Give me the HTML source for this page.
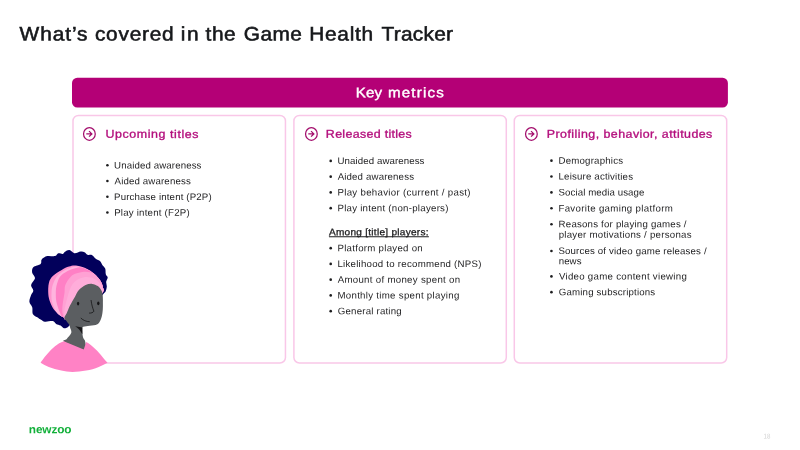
<!DOCTYPE html>
<html lang="en">
<head>
<meta charset="utf-8">
<title>What’s covered in the Game Health Tracker</title>
<style>
html,body{margin:0;padding:0;}
body{width:800px;height:450px;position:relative;overflow:hidden;background:#fff;font-family:"Liberation Sans",sans-serif;color:#1d1d1f;}
h1,h2,h3,ul,li,p{margin:0;padding:0;font:inherit;list-style:none;}
#art{position:absolute;left:0;top:0;width:800px;height:450px;}
.t{position:absolute;white-space:nowrap;line-height:16px;transform-origin:0 0;}
.tw{font-size:19.5px;color:#16181b;-webkit-text-stroke:0.55px #16181b;}
.bw{font-size:14px;color:#fff;-webkit-text-stroke:0.4px #fff;}
.hd{font-size:11.3px;font-weight:400;color:#b30d7c;-webkit-text-stroke:0.32px #b30d7c;}
.li,.cont{font-size:9.5px;color:#1d1d1f;}
.sub{font-size:9.5px;font-weight:400;color:#1d1d1f;-webkit-text-stroke:0.3px #1d1d1f;text-decoration:underline;text-decoration-thickness:1px;text-underline-offset:0.65px;text-decoration-skip-ink:none;}
.logo{font-size:11.6px;font-weight:700;color:#12b03a;}
.pg{font-size:7px;color:#d2d2d2;}
</style>
</head>
<body>
<svg id="art" viewBox="0 0 800 450">
<rect x="72" y="77.65" width="655.9" height="29.8" rx="5.3" fill="#b40076"/>
<g fill="none" stroke="#f9c7e8" stroke-width="1.5">
<rect x="73" y="115.4" width="212.45" height="247.6" rx="5.5"/>
<rect x="293.9" y="115.4" width="212.4" height="247.6" rx="5.5"/>
<rect x="514.3" y="115.4" width="212.4" height="247.6" rx="5.5"/>
</g>
<g transform="translate(89.4 133.95)"><ellipse cx="0" cy="0" rx="5.85" ry="6.3" fill="none" stroke="#a30d6c" stroke-width="1.25"/><path d="M-3.1 -0.05H2.1M-0.35 -2.8L2.45 -0.05L-0.35 2.7" fill="none" stroke="#a30d6c" stroke-width="1.3" stroke-linejoin="miter"/></g>
<g transform="translate(311.4 133.95)"><ellipse cx="0" cy="0" rx="5.85" ry="6.3" fill="none" stroke="#a30d6c" stroke-width="1.25"/><path d="M-3.1 -0.05H2.1M-0.35 -2.8L2.45 -0.05L-0.35 2.7" fill="none" stroke="#a30d6c" stroke-width="1.3" stroke-linejoin="miter"/></g>
<g transform="translate(531.4 133.95)"><ellipse cx="0" cy="0" rx="5.85" ry="6.3" fill="none" stroke="#a30d6c" stroke-width="1.25"/><path d="M-3.1 -0.05H2.1M-0.35 -2.8L2.45 -0.05L-0.35 2.7" fill="none" stroke="#a30d6c" stroke-width="1.3" stroke-linejoin="miter"/></g>
<g id="fig">
<path d="M69.4 250.0C71.0 250.2 72.5 252.9 74.4 253.2C76.3 253.5 78.9 251.8 80.6 251.6C82.3 251.4 83.3 251.7 84.5 252.2C85.7 252.7 86.2 254.2 87.5 254.7C88.8 255.2 90.8 254.5 92.2 255.2C93.6 255.9 94.5 257.8 95.8 258.8C97.1 259.8 99.1 260.2 100.2 261.3C101.3 262.4 101.7 264.0 102.5 265.2C103.3 266.4 104.7 267.1 105.2 268.6C105.8 270.1 105.4 272.7 105.8 274.2C106.2 275.7 107.6 276.1 107.7 277.4C107.8 278.7 106.4 280.3 106.2 281.8C106.0 283.3 106.9 285.0 106.8 286.6C106.7 288.2 106.1 290.4 105.6 291.5C105.1 292.6 105.3 291.8 104.0 293.2C102.7 294.6 101.2 296.4 98.0 300.0C94.8 303.6 89.3 311.0 85.0 315.0C80.7 319.0 74.6 322.2 72.0 324.0C69.4 325.8 70.1 325.0 69.4 325.5C68.7 326.0 68.7 326.7 67.8 327.2C66.9 327.7 65.1 328.6 63.9 328.3C62.7 328.0 61.9 326.3 60.6 325.6C59.3 324.9 57.4 324.6 56.1 323.9C54.8 323.1 54.6 321.5 52.8 321.1C50.9 320.7 47.0 322.0 45.0 321.7C43.0 321.4 41.9 320.1 40.6 319.4C39.3 318.6 38.5 318.1 37.2 317.2C35.9 316.3 33.6 315.6 32.8 313.9C32.0 312.2 32.8 309.2 32.2 307.2C31.6 305.2 29.6 303.7 29.4 301.7C29.2 299.7 30.5 296.9 31.1 295.0C31.8 293.1 33.3 292.3 33.3 290.6C33.3 288.9 30.8 287.1 31.1 285.0C31.4 282.9 34.8 280.3 35.0 278.3C35.2 276.3 32.5 274.7 32.2 272.8C31.9 270.9 31.9 268.7 33.3 267.2C34.7 265.7 39.2 265.2 40.6 263.9C42.0 262.6 40.6 260.7 41.7 259.4C42.8 258.1 45.0 256.7 47.2 256.1C49.4 255.6 53.1 256.6 55.0 256.1C56.9 255.6 57.0 253.7 58.3 253.3C59.6 252.9 61.7 254.2 62.8 253.9C63.9 253.6 63.9 252.3 65.0 251.7C66.1 251.0 67.8 249.8 69.4 250.0Z" fill="#02005b"/>
<path d="M76.0 265.6C79.0 266.0 84.4 267.7 87.2 268.9C90.0 270.1 91.2 271.3 93.0 272.8C94.8 274.3 96.9 276.4 98.3 278.0C99.7 279.6 100.6 281.1 101.3 282.5C102.0 283.9 102.4 284.9 102.7 286.5C103.0 288.1 104.3 289.8 103.0 292.0C101.7 294.2 98.8 296.7 95.0 300.0C91.2 303.3 84.8 308.8 80.0 312.0C75.2 315.2 68.6 318.0 66.0 319.0C63.4 320.0 65.5 318.5 64.4 317.8C63.3 317.1 61.1 316.4 59.4 315.0C57.6 313.6 55.5 311.6 53.9 309.4C52.3 307.2 50.9 304.3 50.0 301.7C49.1 299.1 48.5 297.0 48.3 293.9C48.1 290.8 48.1 286.0 48.9 283.0C49.6 280.0 50.7 278.3 52.8 276.1C54.9 273.9 59.0 271.6 61.7 270.0C64.4 268.4 66.6 267.3 69.0 266.6C71.4 265.9 73.0 265.2 76.0 265.6Z" fill="#ff94ce"/>
<clipPath id="wc"><path d="M76.0 265.6C79.0 266.0 84.4 267.7 87.2 268.9C90.0 270.1 91.2 271.3 93.0 272.8C94.8 274.3 96.9 276.4 98.3 278.0C99.7 279.6 100.6 281.1 101.3 282.5C102.0 283.9 102.4 284.9 102.7 286.5C103.0 288.1 104.3 289.8 103.0 292.0C101.7 294.2 98.8 296.7 95.0 300.0C91.2 303.3 84.8 308.8 80.0 312.0C75.2 315.2 68.6 318.0 66.0 319.0C63.4 320.0 65.5 318.5 64.4 317.8C63.3 317.1 61.1 316.4 59.4 315.0C57.6 313.6 55.5 311.6 53.9 309.4C52.3 307.2 50.9 304.3 50.0 301.7C49.1 299.1 48.5 297.0 48.3 293.9C48.1 290.8 48.1 286.0 48.9 283.0C49.6 280.0 50.7 278.3 52.8 276.1C54.9 273.9 59.0 271.6 61.7 270.0C64.4 268.4 66.6 267.3 69.0 266.6C71.4 265.9 73.0 265.2 76.0 265.6Z"/></clipPath>
<g clip-path="url(#wc)"><path d="M60.5 318.0C59.7 316.8 57.0 313.4 55.6 310.7C54.2 308.0 52.7 304.8 52.0 301.8C51.3 298.9 51.4 295.8 51.5 293.0C51.6 290.2 51.8 287.7 52.7 285.0C53.6 282.3 55.0 279.0 56.7 276.7C58.4 274.4 60.8 272.6 63.0 271.2C65.2 269.8 67.5 268.8 70.0 268.0C72.5 267.2 75.2 266.2 78.0 266.4C80.8 266.6 84.5 268.1 87.0 269.2C89.5 270.3 92.0 272.2 93.0 272.8L112 272.8 L112 332L58 332Z" fill="#ffb4de"/><path d="M62.5 318.0C61.9 316.8 60.1 313.4 59.1 310.7C58.1 308.0 57.0 304.8 56.4 301.8C55.8 298.9 55.8 295.8 55.8 293.0C55.8 290.2 56.0 287.7 56.7 285.0C57.4 282.3 58.4 278.9 60.0 276.7C61.6 274.5 64.3 273.1 66.4 271.8C68.5 270.5 70.4 269.9 72.7 269.1C75.0 268.4 77.6 267.2 80.0 267.3C82.4 267.4 84.8 268.7 87.0 269.6C89.2 270.6 92.0 272.4 93.0 273.0L112 273 L112 332L58 332Z" fill="#ff80c5"/><path d="M63.5 317.0C63.3 315.9 62.4 313.2 62.3 310.7C62.2 308.2 62.6 304.9 63.0 302.0C63.4 299.1 64.1 295.8 64.5 293.0C64.9 290.2 64.3 287.7 65.3 285.0C66.3 282.3 68.9 278.6 70.7 276.7C72.5 274.8 73.8 274.4 76.0 273.6C78.2 272.8 81.7 272.0 84.0 271.8C86.3 271.6 88.3 272.0 90.0 272.3C91.7 272.6 93.3 273.4 94.0 273.6L112 273.6 L112 332L58 332Z" fill="#ffa1d4"/><path d="M64.0 318.0C64.1 316.7 64.1 312.8 64.5 310.0C64.9 307.2 65.8 304.0 66.5 301.0C67.2 298.0 68.1 294.7 69.0 292.0C69.9 289.3 70.7 287.0 72.0 285.0C73.3 283.0 75.0 281.3 77.0 280.0C79.0 278.7 81.7 277.6 84.0 277.2C86.3 276.8 88.8 276.9 91.0 277.5C93.2 278.1 95.3 279.3 97.0 280.5C98.7 281.7 100.0 283.1 101.0 284.5C102.0 285.9 102.7 288.2 103.0 289.0L112 289 L112 332L58 332Z" fill="#ffadda"/></g>
<path d="M75.0 296.7C76.5 294.1 77.1 291.9 78.9 290.0C80.7 288.1 83.4 286.0 85.6 285.0C87.8 284.0 90.2 283.7 92.2 283.9C94.2 284.1 96.2 284.9 97.8 286.1C99.4 287.3 100.9 289.4 101.7 291.1C102.5 292.8 102.6 294.5 102.8 296.5C103.0 298.5 102.9 300.8 102.9 303.0C102.9 305.2 103.0 307.2 102.8 309.5C102.6 311.8 102.3 314.6 101.7 316.7C101.1 318.8 100.4 320.8 99.4 322.2C98.4 323.6 97.5 324.4 95.6 325.0C93.7 325.6 90.0 325.7 87.8 326.1C85.6 326.5 83.3 326.3 82.4 327.3C81.5 328.3 82.3 330.3 82.4 332.0C82.5 333.7 82.5 335.6 83.0 337.3C83.5 339.0 85.1 339.9 85.3 342.0C85.5 344.1 87.5 350.1 84.0 350.0C80.5 349.9 67.2 343.6 64.3 341.7C61.4 339.8 65.5 340.4 66.7 338.9C67.9 337.4 70.8 334.6 71.3 332.7C71.8 330.8 70.3 328.5 70.0 327.2C69.7 325.9 69.9 325.9 69.4 325.0C68.9 324.1 67.6 322.7 66.8 321.5C66.0 320.3 64.4 319.2 64.4 317.8C64.4 316.4 65.8 315.3 66.7 313.3C67.6 311.3 68.6 308.4 70.0 305.6C71.4 302.8 73.5 299.3 75.0 296.7Z" fill="#5b5e61"/>
<path d="M75.2 326.2L82.5 327.4L82.3 334.2C80.5 330.5 78 328 75.2 326.2Z" fill="#18181a"/>
<ellipse cx="78.1" cy="303.6" rx="1.15" ry="1.9" fill="#151517"/><ellipse cx="98.3" cy="303.3" rx="1.15" ry="1.9" fill="#151517"/>
<path d="M91.1 300.4C91.6 304.5 92.6 308 93.9 311.2C93 312.6 91.3 313.2 89.5 313.1" fill="none" stroke="#151517" stroke-width="0.8" stroke-linecap="round" stroke-linejoin="round"/>
<path d="M81.1 318.3C83.2 320.4 86.2 321.6 89.4 321.7" fill="none" stroke="#151517" stroke-width="0.8" stroke-linecap="round"/>
<path d="M63.75 341.25L83.75 349.4L86.25 341.9C90 344 92.5 346.3 95 348.75C98 351.6 100.5 354.3 102.5 356.9C104.5 359.3 106 361 107.5 362.75C104.5 364.5 101.5 365.9 98.75 366.9C94.5 368.7 90.5 369.9 86.25 370.6C81.5 371.5 77 371.9 72.5 371.9C68.5 371.9 64.8 371.4 61.25 370.6C56.8 369.7 52.6 368.4 48.75 366.9C45.8 365.7 43 364.3 40.6 362.75C41.1 361.8 41.8 360.9 42.5 360C44 357.8 45.6 355.7 47.5 353.75C49.7 351.1 52.3 348.5 55 346.25C57.7 344.1 60.6 342.4 63.75 341.25Z" fill="#ff82c5"/>
</g>

<g fill="#1d1d1f"><circle cx="107.40" cy="165.30" r="1.3"/><circle cx="107.40" cy="181.05" r="1.3"/><circle cx="107.40" cy="196.80" r="1.3"/><circle cx="107.40" cy="212.55" r="1.3"/><circle cx="330.70" cy="160.90" r="1.3"/><circle cx="330.70" cy="176.65" r="1.3"/><circle cx="330.70" cy="192.40" r="1.3"/><circle cx="330.70" cy="208.15" r="1.3"/><circle cx="330.70" cy="248.15" r="1.3"/><circle cx="330.70" cy="263.90" r="1.3"/><circle cx="330.70" cy="279.65" r="1.3"/><circle cx="330.70" cy="295.40" r="1.3"/><circle cx="330.70" cy="311.15" r="1.3"/><circle cx="551.45" cy="160.65" r="1.3"/><circle cx="551.45" cy="176.50" r="1.3"/><circle cx="551.45" cy="192.40" r="1.3"/><circle cx="551.45" cy="208.30" r="1.3"/><circle cx="551.45" cy="224.20" r="1.3"/><circle cx="551.45" cy="251.00" r="1.3"/><circle cx="551.45" cy="276.40" r="1.3"/><circle cx="551.45" cy="292.15" r="1.3"/></g>
</svg>
<h1><span id="t1" class="t tw" style="left:19px;top:25px;letter-spacing:0.855px;transform:matrix(1.07,0.0005,0,1,0.58,0.55)">What’s</span> <span id="t2" class="t tw" style="left:94px;top:25px;letter-spacing:0.693px;transform:matrix(1.07,0.0005,0,1,0.94,0.55)">covered</span> <span id="t3" class="t tw" style="left:180px;top:25px;letter-spacing:1.451px;transform:matrix(1.07,0.0005,0,1,0.79,0.55)">in</span> <span id="t4" class="t tw" style="left:205px;top:25px;letter-spacing:0.531px;transform:matrix(1.07,0.0005,0,1,0.58,0.55)">the</span> <span id="t5" class="t tw" style="left:243px;top:25px;letter-spacing:0.367px;transform:matrix(1.07,0.0005,0,1,0.86,0.55)">Game</span> <span id="t6" class="t tw" style="left:309px;top:25px;letter-spacing:0.627px;transform:matrix(1.07,0.0005,0,1,0.36,0.55)">Health</span> <span id="t7" class="t tw" style="left:381px;top:25px;letter-spacing:0.239px;transform:matrix(1.07,0.0005,0,1,0.50,0.55)">Tracker</span></h1>
<h2><span id="b1" class="t bw" style="left:355px;top:84px;letter-spacing:0.222px;transform:matrix(1.08,0.0005,0,1,0.65,0.25)">Key</span> <span id="b2" class="t bw" style="left:387px;top:84px;letter-spacing:1.112px;transform:matrix(1.08,0.0005,0,1,0.96,0.25)">metrics</span></h2>
<section>
<h3><span id="h1" class="t hd" style="left:105px;top:125px;letter-spacing:0.514px;transform:matrix(1.1,0.0005,0,1,0.56,0.85)">Upcoming titles</span></h3>
<ul><li><span id="a1" class="t li" style="left:114px;top:157px;letter-spacing:0.105px;transform:matrix(1.02,0.0005,0,1,0.07,0.40)">Unaided awareness</span></li><li><span id="a2" class="t li" style="left:114px;top:173px;letter-spacing:0.131px;transform:matrix(1.02,0.0005,0,1,0.54,0.15)">Aided awareness</span></li><li><span id="a3" class="t li" style="left:114px;top:188px;letter-spacing:0.139px;transform:matrix(1.02,0.0005,0,1,0.06,0.90)">Purchase intent (P2P)</span></li><li><span id="a4" class="t li" style="left:114px;top:204px;letter-spacing:0.205px;transform:matrix(1.02,0.0005,0,1,0.14,0.65)">Play intent (F2P)</span></li></ul>
</section>
<section>
<h3><span id="h2" class="t hd" style="left:325px;top:125px;letter-spacing:0.286px;transform:matrix(1.1,0.0005,0,1,0.85,0.75)">Released titles</span></h3>
<ul><li><span id="c1" class="t li" style="left:337px;top:153px;letter-spacing:0.075px;transform:matrix(1.02,0.0005,0,1,0.55,0.00)">Unaided awareness</span></li><li><span id="c2" class="t li" style="left:337px;top:168px;letter-spacing:0.139px;transform:matrix(1.02,0.0005,0,1,0.65,0.75)">Aided awareness</span></li><li><span id="c3" class="t li" style="left:337px;top:184px;letter-spacing:0.294px;transform:matrix(1.02,0.0005,0,1,0.43,0.50)">Play behavior (current / past)</span></li><li><span id="c4" class="t li" style="left:337px;top:200px;letter-spacing:0.244px;transform:matrix(1.02,0.0005,0,1,0.43,0.25)">Play intent (non-players)</span></li></ul>
<p><span id="c5" class="t sub" style="left:328px;top:224px;letter-spacing:0.254px;transform:matrix(1.06,0.0005,0,1,0.91,0.24)">Among [title] players:</span></p>
<ul><li><span id="c6" class="t li" style="left:337px;top:240px;letter-spacing:0.260px;transform:matrix(1.02,0.0005,0,1,0.43,0.25)">Platform played on</span></li><li><span id="c7" class="t li" style="left:337px;top:256px;letter-spacing:0.232px;transform:matrix(1.02,0.0005,0,1,0.43,0.00)">Likelihood to recommend (NPS)</span></li><li><span id="c8" class="t li" style="left:337px;top:271px;letter-spacing:0.283px;transform:matrix(1.02,0.0005,0,1,0.65,0.75)">Amount of money spent on</span></li><li><span id="c9" class="t li" style="left:337px;top:287px;letter-spacing:0.279px;transform:matrix(1.02,0.0005,0,1,0.43,0.50)">Monthly time spent playing</span></li><li><span id="c10" class="t li" style="left:337px;top:303px;letter-spacing:0.191px;transform:matrix(1.02,0.0005,0,1,0.74,0.25)">General rating</span></li></ul>
</section>
<section>
<h3><span id="h3" class="t hd" style="left:546px;top:125px;letter-spacing:0.405px;transform:matrix(1.1,0.0005,0,1,0.75,0.65)">Profiling, behavior, attitudes</span></h3>
<ul><li><span id="d1" class="t li" style="left:558px;top:152px;letter-spacing:0.192px;transform:matrix(1.02,0.0005,0,1,0.46,0.75)">Demographics</span></li><li><span id="d2" class="t li" style="left:558px;top:168px;letter-spacing:0.161px;transform:matrix(1.02,0.0005,0,1,0.56,0.60)">Leisure activities</span></li><li><span id="d3" class="t li" style="left:558px;top:184px;letter-spacing:0.075px;transform:matrix(1.02,0.0005,0,1,0.56,0.50)">Social media usage</span></li><li><span id="d4" class="t li" style="left:558px;top:200px;letter-spacing:0.306px;transform:matrix(1.02,0.0005,0,1,0.40,0.40)">Favorite gaming platform</span></li><li><span id="d5" class="t li" style="left:558px;top:216px;letter-spacing:0.193px;transform:matrix(1.02,0.0005,0,1,0.61,0.30)">Reasons for playing games /</span> <span id="d5b" class="t cont" style="left:558px;top:226px;letter-spacing:0.239px;transform:matrix(1.02,0.0005,0,1,0.68,0.65)">player motivations / personas</span></li><li><span id="d6" class="t li" style="left:558px;top:243px;letter-spacing:0.139px;transform:matrix(1.02,0.0005,0,1,0.42,0.10)">Sources of video game releases /</span> <span id="d6b" class="t cont" style="left:558px;top:253px;letter-spacing:0.046px;transform:matrix(1.02,0.0005,0,1,0.71,0.20)">news</span></li><li><span id="d7" class="t li" style="left:558px;top:268px;letter-spacing:0.272px;transform:matrix(1.02,0.0005,0,1,0.89,0.50)">Video game content viewing</span></li><li><span id="d8" class="t li" style="left:558px;top:284px;letter-spacing:0.168px;transform:matrix(1.02,0.0005,0,1,0.75,0.25)">Gaming subscriptions</span></li></ul>
</section>
<footer><span id="lg" class="t logo" style="left:28px;top:421px;letter-spacing:-0.158px;transform:matrix(1.02,0.0005,0,1,0.87,0.20)">newzoo</span><span id="pg" class="t pg" style="left:763px;top:428px;letter-spacing:0.050px;transform:matrix(0.88,0.0005,0,1,0.42,0.60)">18</span></footer>
</body>
</html>
